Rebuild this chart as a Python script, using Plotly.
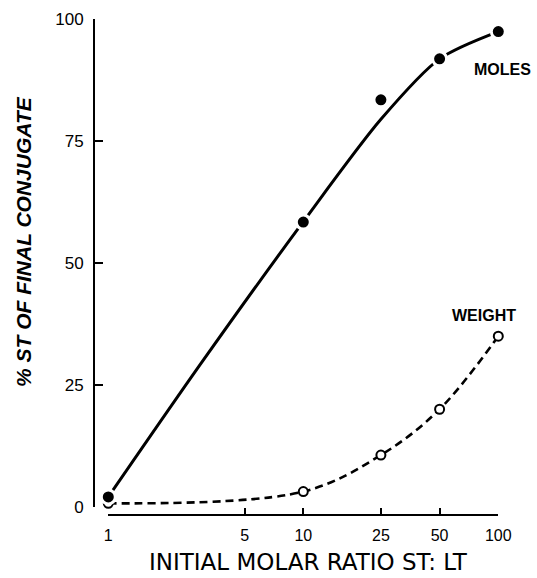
import plotly.graph_objects as go

# ---- data ----
ratio = [1, 10, 25, 50, 100]                 # initial molar ratio ST:LT
moles_pts = [2.0, 58.4, 83.5, 91.9, 97.5]    # % ST (moles), filled circles
weight_pts = [0.7, 3.1, 10.6, 20.0, 35.0]    # % ST (weight), open circles

# hand-drawn smooth "moles" curve
moles_curve_x = [1, 3, 10, 25, 50, 100]
moles_curve_y = [2.0, 29.5, 58.5, 79.5, 91.9, 97.5]

x_ticks = [1, 5, 10, 25, 50, 100]
x_tick_text = ["1", "5", "10", "25", "50", "100"]
y_ticks = [0, 25, 50, 75, 100]

W, H = 537, 578
FONT = "Liberation Sans"

fig = go.Figure()

fig.add_trace(go.Scatter(
    x=moles_curve_x, y=moles_curve_y, mode="lines",
    line=dict(color="black", width=3, shape="spline", smoothing=0.8),
    cliponaxis=False, hoverinfo="skip", showlegend=False))

fig.add_trace(go.Scatter(
    x=ratio, y=weight_pts, mode="lines",
    line=dict(color="black", width=2.6, shape="spline", dash="8px,5px"),
    cliponaxis=False, hoverinfo="skip", showlegend=False))

fig.add_trace(go.Scatter(
    x=ratio, y=weight_pts, mode="markers",
    marker=dict(symbol="circle", size=9, color="white",
                line=dict(color="black", width=2)),
    cliponaxis=False, showlegend=False, name="Weight"))

fig.add_trace(go.Scatter(
    x=ratio, y=moles_pts, mode="markers",
    marker=dict(symbol="circle", size=14, color="black",
                line=dict(color="white", width=3)),
    cliponaxis=False, showlegend=False, name="Moles"))

x0_px, x1_px = 108.3, 498.3
y0_px, y100_px = 506.7, 19.4
yaxis_x_px = 94
xaxis_y_px = 514.5

fig.update_layout(
    template="none",
    width=W, height=H, autosize=False,
    margin=dict(l=0, r=0, t=0, b=0, pad=0),
    paper_bgcolor="white", plot_bgcolor="white",
    font=dict(family=FONT, color="black"),
    xaxis=dict(
        type="log", range=[0, 2], automargin=False,
        domain=[x0_px / W, x1_px / W],
        anchor="free", position=1 - xaxis_y_px / H,
        showgrid=False, zeroline=False,
        showline=True, linecolor="black", linewidth=2,
        ticks="inside", ticklen=6, tickwidth=2, tickcolor="black",
        tickvals=x_ticks, ticktext=x_tick_text,
        tickfont=dict(family=FONT, size=16, color="black"),
        ticklabelstandoff=6,
    ),
    yaxis=dict(
        range=[0, 100], automargin=False,
        domain=[1 - y0_px / H, 1 - y100_px / H],
        anchor="free", position=yaxis_x_px / W,
        showgrid=False, zeroline=False,
        showline=True, linecolor="black", linewidth=2,
        ticks="inside", ticklen=8, tickwidth=2, tickcolor="black",
        tickvals=y_ticks,
        tickfont=dict(family=FONT, size=17, color="black"),
        ticklabelstandoff=6,
    ),
    annotations=[
        dict(text="MOLES", xref="paper", yref="paper", x=502 / W, y=1 - 70 / H,
             showarrow=False, xanchor="center", yanchor="middle",
             font=dict(family=FONT, size=16, color="black", weight="bold")),
        dict(text="WEIGHT", xref="paper", yref="paper", x=484 / W, y=1 - 315 / H,
             showarrow=False, xanchor="center", yanchor="middle",
             font=dict(family=FONT, size=16, color="black", weight="bold")),
        dict(text="INITIAL MOLAR RATIO ST: LT", xref="paper", yref="paper",
             x=308 / W, y=1 - 562 / H, showarrow=False,
             xanchor="center", yanchor="middle",
             font=dict(family="DejaVu Sans", size=23, color="black")),
        dict(text="% ST OF FINAL CONJUGATE", xref="paper", yref="paper",
             x=23 / W, y=1 - 242 / H, showarrow=False, textangle=-90,
             xanchor="center", yanchor="middle",
             font=dict(family=FONT, size=21, color="black",
                       weight="bold", style="italic")),
    ],
)

fig.write_html("out.html")
